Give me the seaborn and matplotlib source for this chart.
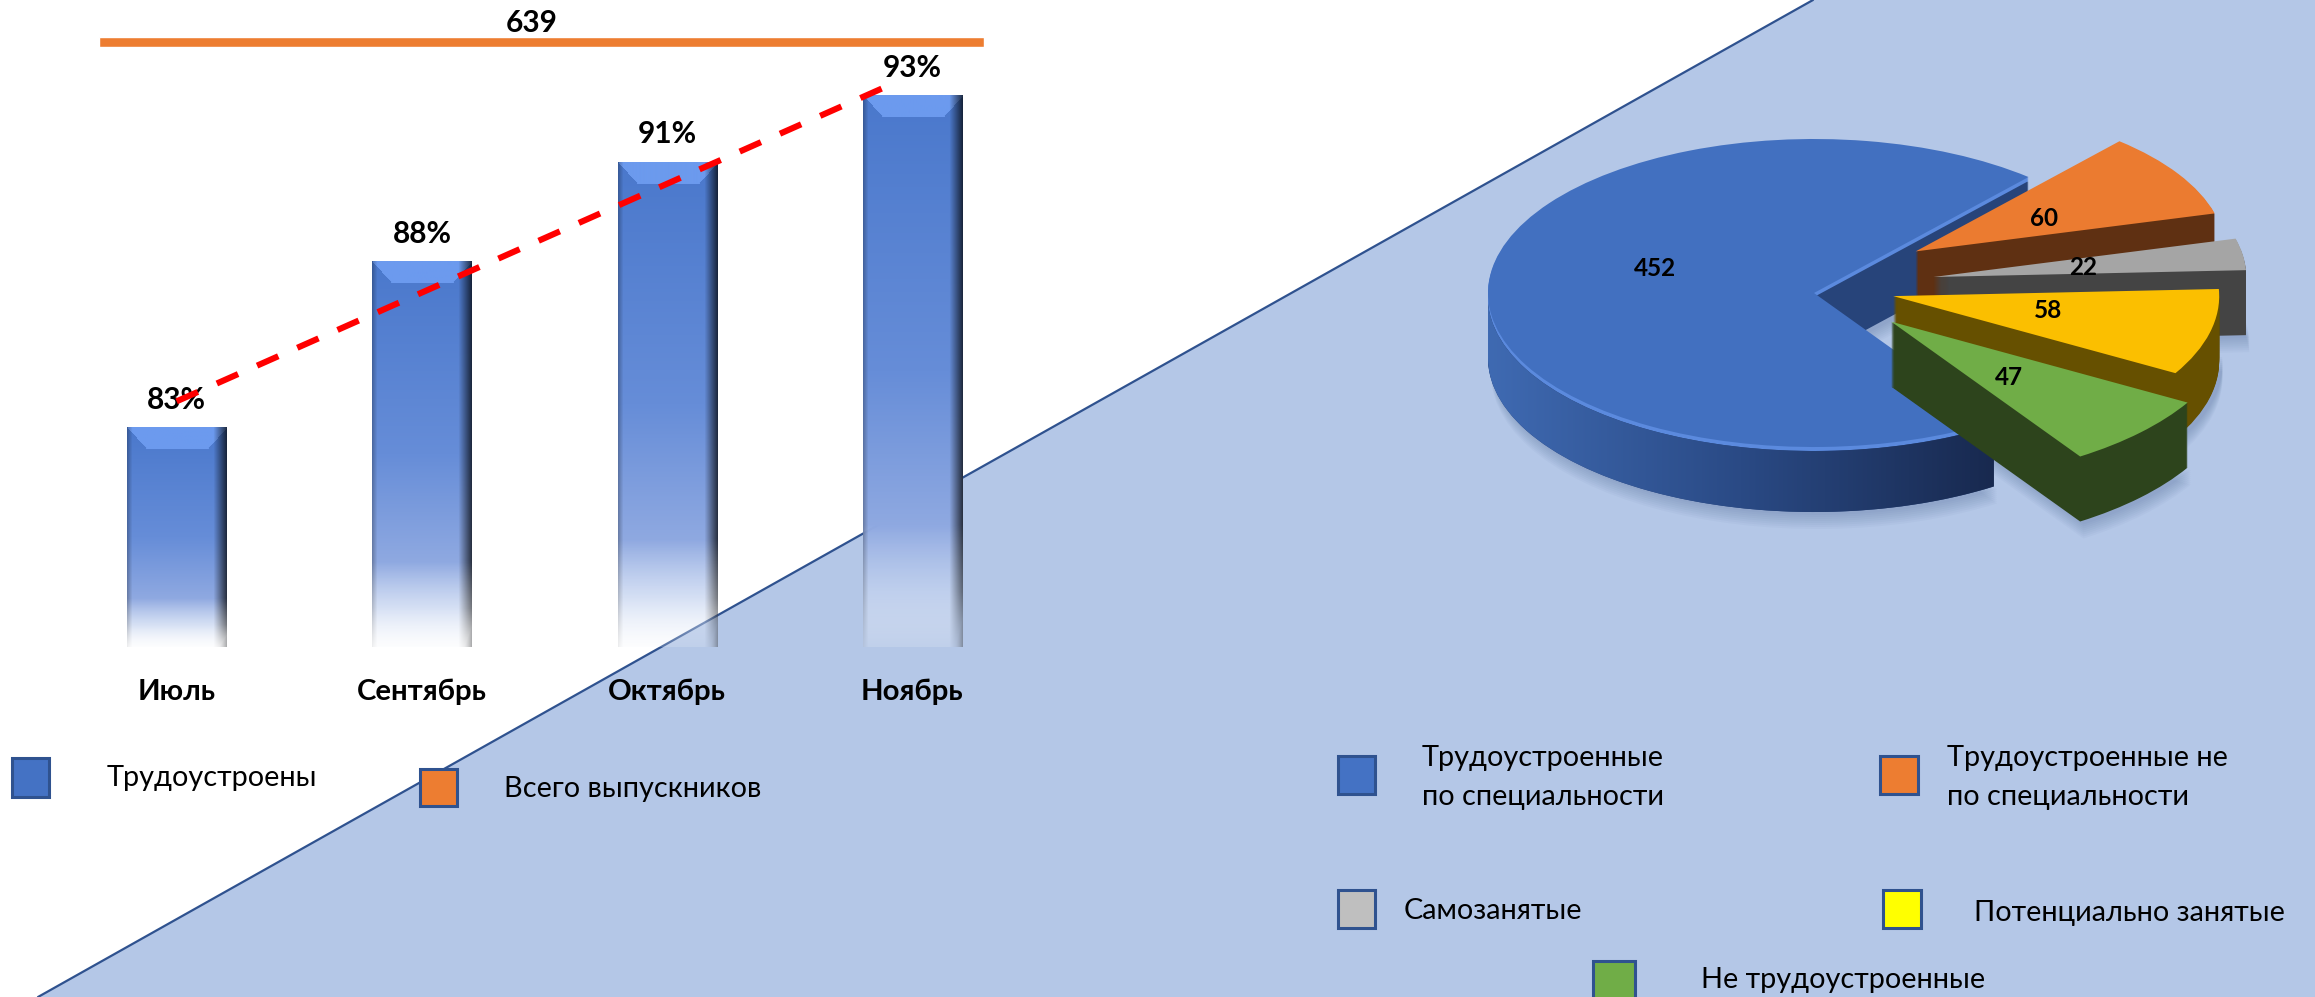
import numpy as np
import matplotlib
matplotlib.use('Agg')
import matplotlib.pyplot as plt
from matplotlib.colors import LinearSegmentedColormap, to_rgb
from matplotlib.patches import Polygon, Rectangle
import seaborn as sns

months = ['Июль', 'Сентябрь', 'Октябрь', 'Ноябрь']
employed_pct = [83, 88, 91, 93]
trend_x = [0, 2.93]
trend_y = [83.8, 93.4]
total_grads = 639

pie_values = [452, 60, 22, 58, 47]
pie_colors = ['#4270C0', '#EB7B30', '#A5A5A5', '#FBBF00', '#70AD47']
side_colors = ['#27447A', '#5F3012', '#444444', '#665000', '#2D441C']
pie_explode = [0, 0.40, 0.38, 0.25, 0.30]
pie_radius = [1, 0.95, 0.96, 1.0, 1.05]
apex_nudge = [(0, 0), (-9, -9), (-3, -7), (0, -6), (6, -3)]

W, H = 2315, 997
sns.set_theme(style='white')
plt.rcParams['font.family'] = ['Lato', 'Open Sans', 'DejaVu Sans']


def px_axes(x0, y0, x1, y1, **kw):
    # прямоугольник задан в пикселях картинки, y сверху вниз
    ax = fig.add_axes([x0 / W, 1 - y1 / H, (x1 - x0) / W, (y1 - y0) / H], **kw)
    ax.patch.set_alpha(0)
    return ax


fig = plt.figure(figsize=(W / 100, H / 100), dpi=100)

# фон с диагональю
ax_bg = px_axes(0, 0, W, H, zorder=0)
ax_bg.set_xlim(0, W)
ax_bg.set_ylim(H, 0)
ax_bg.axis('off')
ax_bg.fill([38, 1813, W, W], [H, 0, 0, H], color='#B4C7E7', lw=0)
ax_bg.plot([38, 1813], [H, 0], color='#2F528F', lw=1.6)

# столбцы
ax = px_axes(54, 0, 1035, 647, zorder=1)
sns.barplot(x=months, y=employed_pct, color='#4472C4', width=0.404, ax=ax)
ax.set_xlim(-0.5, 3.5)
ax.set_ylim(76.4, 76.4 + 647 / 33.2)
ax.set_yticks([])
ax.set(xlabel='', ylabel='')
sns.despine(ax=ax, left=True, bottom=True)
ax.tick_params(axis='x', length=0, pad=23)
for t in ax.get_xticklabels():
    t.set_fontsize(21.2)
    t.set_fontweight('bold')
    t.set_color('black')

stops = np.array([0, 0.5, 0.78, 0.9, 1])
r_st = np.array([to_rgb(c) for c in ['#4A78CC', '#668DD8', '#8FA9E1', '#C4D3F0', '#F2F5FB']])
a_st = np.array([1, 1, 1, 0.7, 0.2])
for p in ax.patches:
    p.set_visible(False)
    x0, x1 = p.get_x(), p.get_x() + p.get_width()
    ytop = p.get_height()
    hpx = int(round((ytop - 76.4) * 33.2))
    wpx = 99
    t = np.linspace(0, 1, hpx)
    img = np.zeros((hpx, wpx, 4))
    for k in range(3):
        img[:, :, k] = np.interp(t, stops, r_st[:, k])[:, None]
    img[:, :, 3] = np.interp(t, stops, a_st)[:, None]
    # скос сверху
    yy, xx = np.mgrid[0:hpx, 0:wpx]
    top = (yy < 22) & (xx > yy * 0.9) & (xx < wpx - yy * 0.9)
    img[top, :3] = np.array(to_rgb('#6C9AEE'))
    # тёмный край справа, слабее слева
    shade = np.ones(wpx)
    shade[-14:] = np.linspace(1, 0.3, 14)
    shade[:6] = np.linspace(0.75, 1, 6)
    img[:, :, :3] *= shade[None, :, None]
    edge = np.zeros(wpx)
    edge[-14:] = np.linspace(0, 0.45, 14)
    edge[:4] = np.linspace(0.25, 0, 4)
    img[:, :, 3] = np.maximum(img[:, :, 3], edge[None, :])
    ax.imshow(img, extent=[x0, x1, 76.4, ytop], aspect='auto', origin='upper', zorder=2)
ax.set_xlim(-0.5, 3.5)
ax.set_ylim(76.4, 76.4 + 647 / 33.2)

ax.bar_label(ax.containers[0], labels=[f'{v}%' for v in employed_pct], padding=10,
             fontsize=21.5, fontweight='bold', color='black', zorder=3)
sns.lineplot(x=trend_x, y=trend_y, color='#FF0000', lw=4.4, ax=ax, zorder=5,
             dashes=(3.8, 3.4))
ax.lines[-1].set_dash_capstyle('butt')

# всего выпускников
ax_tot = px_axes(99, 37, 984, 47, zorder=1)
sns.barplot(x=[total_grads], orient='h', color='#ED7D31', saturation=1, width=1, ax=ax_tot)
ax_tot.set_xlim(0, total_grads)
ax_tot.set_ylim(0.5, -0.5)
ax_tot.axis('off')
ax_tot.annotate(str(total_grads), xy=(0.5, 1), xycoords='axes fraction', xytext=(-7, 0),
                textcoords='offset points', ha='center', va='bottom', fontsize=21.5,
                fontweight='bold', color='black')

# круговая диаграмма
rx, ry = 326, 154
cx, cy = 1814, 293
depth_px = 65
start = -56.5
ax_pie = px_axes(1400, 100, W, 560, zorder=2)


def place(wedges):
    for i, w in enumerate(wedges):
        c = w.center
        dx, dy = apex_nudge[i]
        w.set_center((c[0] + dx / rx, c[1] - dy / ry))
        w.set_radius(pie_radius[i])


for s in range(8):
    wedges, _ = ax_pie.pie(pie_values, startangle=start, counterclock=False, explode=pie_explode,
                           center=(0.01, -(depth_px + 3 + s * 2) / ry), radius=1,
                           colors=['#33507F'] * 5,
                           wedgeprops={'linewidth': 0, 'alpha': 0.035, 'zorder': 1})
    place(wedges)

blue_top = None
for layer in range(depth_px, -1, -1):
    cols = pie_colors if layer == 0 else side_colors
    if 0 < layer <= 4:
        cols = ['#5B8ADE'] + side_colors[1:]
    wedges, _ = ax_pie.pie(pie_values, startangle=start, counterclock=False, explode=pie_explode,
                           center=(0, -layer / ry), radius=1, colors=cols,
                           wedgeprops={'linewidth': 0})
    place(wedges)
    for i, w in enumerate(wedges):
        w.set_zorder(10 * (i + 1) + (depth_px - layer) / (depth_px + 1) * 5)
    if layer == 0:
        blue_top = wedges[0]

ax_pie.set_aspect('auto')

# боковая грань большого сектора с градиентом
th = np.radians(np.linspace(-180, blue_top.theta2, 120))
ux, uy = np.cos(th), np.sin(th)
poly = np.r_[np.c_[ux, uy - 4 / ry], np.c_[ux, uy - depth_px / ry][::-1]]
cmap = LinearSegmentedColormap.from_list('side', ['#3F6AB2', '#2A4A85', '#18294F'])
im = ax_pie.imshow(np.linspace(0, 1, 256)[None, :], cmap=cmap, aspect='auto',
                   extent=[-1, ux[-1], -2, 1], zorder=14.9)
clip = Polygon(poly, closed=True, transform=ax_pie.transData)
im.set_clip_path(clip)
ax_pie.set_xlim((1400 - cx) / rx, (W - cx) / rx)
ax_pie.set_ylim((cy - 560) / ry, (cy - 100) / ry)
ax_pie.axis('off')

# подписи и легенды поверх всего
ov = px_axes(0, 0, W, H, zorder=3)
ov.set_xlim(0, W)
ov.set_ylim(H, 0)
ov.axis('off')

for val, (x, y) in zip(pie_values, [(1655, 268), (2044, 218), (2083, 267), (2048, 310), (2009, 377)]):
    ov.text(x, y, str(val), ha='center', va='center', fontsize=17.5, fontweight='bold', color='black')

legend_boxes = [
    (12, 758, 49, 797, '#4472C4'), (420, 769, 457, 806, '#ED7D31'),
    (1338, 756, 1375, 794, '#4472C4'), (1880, 756, 1918, 794, '#ED7D31'),
    (1338, 890, 1375, 928, '#BFBFBF'), (1883, 890, 1921, 928, '#FFFF00'),
    (1593, 961, 1635, 999, '#70AD47'),
]
for x0, y0, x1, y1, c in legend_boxes:
    ov.add_patch(Rectangle((x0, y0), x1 - x0, y1 - y0, facecolor=c, edgecolor='#2F528F', lw=2.2,
                           clip_on=False))

legend_texts = [
    (107, 778, 'Трудоустроены'), (504, 789, 'Всего выпускников'),
    (1422, 758, 'Трудоустроенные'), (1422, 797, 'по специальности'),
    (1947, 758, 'Трудоустроенные не'), (1947, 797, 'по специальности'),
    (1404, 911, 'Самозанятые'), (1974, 913, 'Потенциально занятые'),
    (1701, 980, 'Не трудоустроенные'),
]
for x, y, s in legend_texts:
    ov.text(x, y, s, ha='left', va='center', fontsize=20.8, color='black')

fig.savefig('out.png', dpi=100)
